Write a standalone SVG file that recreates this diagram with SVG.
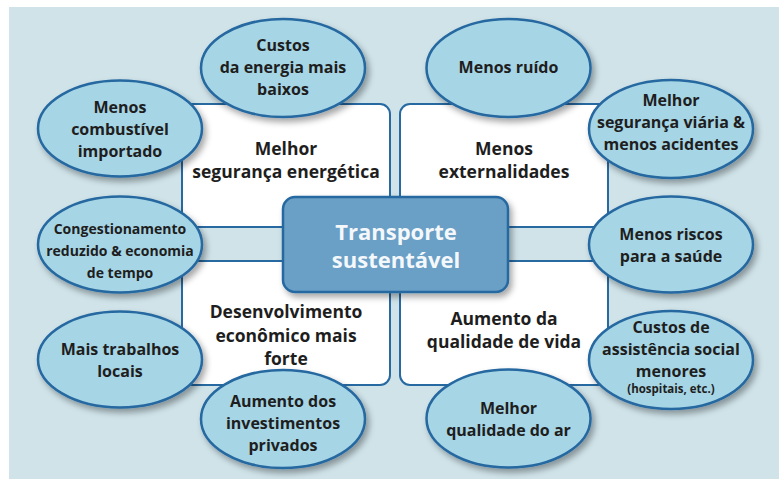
<svg xmlns="http://www.w3.org/2000/svg" width="779" height="479" viewBox="0 0 779 479">
<defs>
<filter id="sh" x="-20%" y="-20%" width="150%" height="150%">
<feDropShadow dx="3" dy="4" stdDeviation="3" flood-color="#000" flood-opacity="0.35"/>
</filter>
<style>
.bg{fill:#cfe3e9}
.box{fill:#ffffff;stroke:#2769a1;stroke-width:2}
.el{fill:#a6d5e5;stroke:#2567a0;stroke-width:2.5;filter:url(#sh)}
.ctr{fill:#6b9fc6;stroke:#2769a1;stroke-width:2.5;filter:url(#sh)}
text{font-family:"Open Sans","Noto Sans","DejaVu Sans",sans-serif;font-weight:700;fill:#1e1e1e;text-anchor:middle}
.bt{font-size:17.5px}
.et{font-size:16px}
.es{font-size:14px}
.sm{font-size:11.5px}
.ct{font-size:22px;fill:#f4f8fb}
</style>
</defs>
<rect class="bg" x="9" y="7" width="770" height="472"/>
<g id="connectors"></g>
<g id="box-tl"><rect class="box" x="182" y="104" width="208" height="123" rx="10"/>
<text class="bt" x="286" y="155">Melhor</text><text class="bt" x="286" y="178">segurança energética</text></g>
<g id="box-tr"><rect class="box" x="400" y="104" width="208" height="123" rx="10"/>
<text class="bt" x="504" y="155">Menos</text><text class="bt" x="504" y="178">externalidades</text></g>
<g id="box-bl"><rect class="box" x="182" y="261" width="208" height="124" rx="10"/>
<text class="bt" x="286" y="318">Desenvolvimento</text><text class="bt" x="286" y="342">econômico mais</text><text class="bt" x="286" y="365">forte</text></g>
<g id="box-br"><rect class="box" x="400" y="261" width="208" height="124" rx="10"/>
<text class="bt" x="504" y="325">Aumento da</text><text class="bt" x="504" y="348">qualidade de vida</text></g>
<g id="center"><rect class="ctr" x="283" y="197" width="225" height="95" rx="12"/>
<text class="ct" x="396" y="240">Transporte</text><text class="ct" x="396" y="268">sustentável</text></g>
<g id="e1"><ellipse class="el" cx="283" cy="68" rx="82" ry="49"/>
<text class="et" x="283" y="51">Custos</text><text class="et" x="283" y="73">da energia mais</text><text class="et" x="283" y="95">baixos</text></g>
<g id="e2"><ellipse class="el" cx="120" cy="128.5" rx="82" ry="48"/>
<text class="et" x="120" y="113">Menos</text><text class="et" x="120" y="135">combustível</text><text class="et" x="120" y="157">importado</text></g>
<g id="e3"><ellipse class="el" cx="120" cy="244.5" rx="82" ry="48"/>
<text class="es" x="120" y="234">Congestionamento</text><text class="es" x="120" y="256">reduzido &amp; economia</text><text class="es" x="120" y="278">de tempo</text></g>
<g id="e4"><ellipse class="el" cx="120" cy="359.5" rx="82" ry="48"/>
<text class="et" x="120" y="355">Mais trabalhos</text><text class="et" x="120" y="377">locais</text></g>
<g id="e5"><ellipse class="el" cx="283" cy="419" rx="82" ry="49"/>
<text class="et" x="283" y="407">Aumento dos</text><text class="et" x="283" y="429">investimentos</text><text class="et" x="283" y="451">privados</text></g>
<g id="e6"><ellipse class="el" cx="508.5" cy="68" rx="82" ry="49"/>
<text class="et" x="508.5" y="73">Menos ruído</text></g>
<g id="e7"><ellipse class="el" cx="671" cy="129" rx="82" ry="49"/>
<text class="et" x="671" y="106">Melhor</text><text class="et" x="671" y="128">segurança viária &amp;</text><text class="et" x="671" y="150">menos acidentes</text></g>
<g id="e8"><ellipse class="el" cx="671" cy="244.5" rx="82" ry="48"/>
<text class="et" x="671" y="240">Menos riscos</text><text class="et" x="671" y="262">para a saúde</text></g>
<g id="e9"><ellipse class="el" cx="671" cy="360" rx="82" ry="49"/>
<text class="et" x="671" y="333">Custos de</text><text class="et" x="671" y="355">assistência social</text><text class="et" x="671" y="377">menores</text><text class="sm" x="671" y="393">(hospitais, etc.)</text></g>
<g id="e10"><ellipse class="el" cx="508.5" cy="418.5" rx="82" ry="49"/>
<text class="et" x="508.5" y="414">Melhor</text><text class="et" x="508.5" y="436">qualidade do ar</text></g>
</svg>
